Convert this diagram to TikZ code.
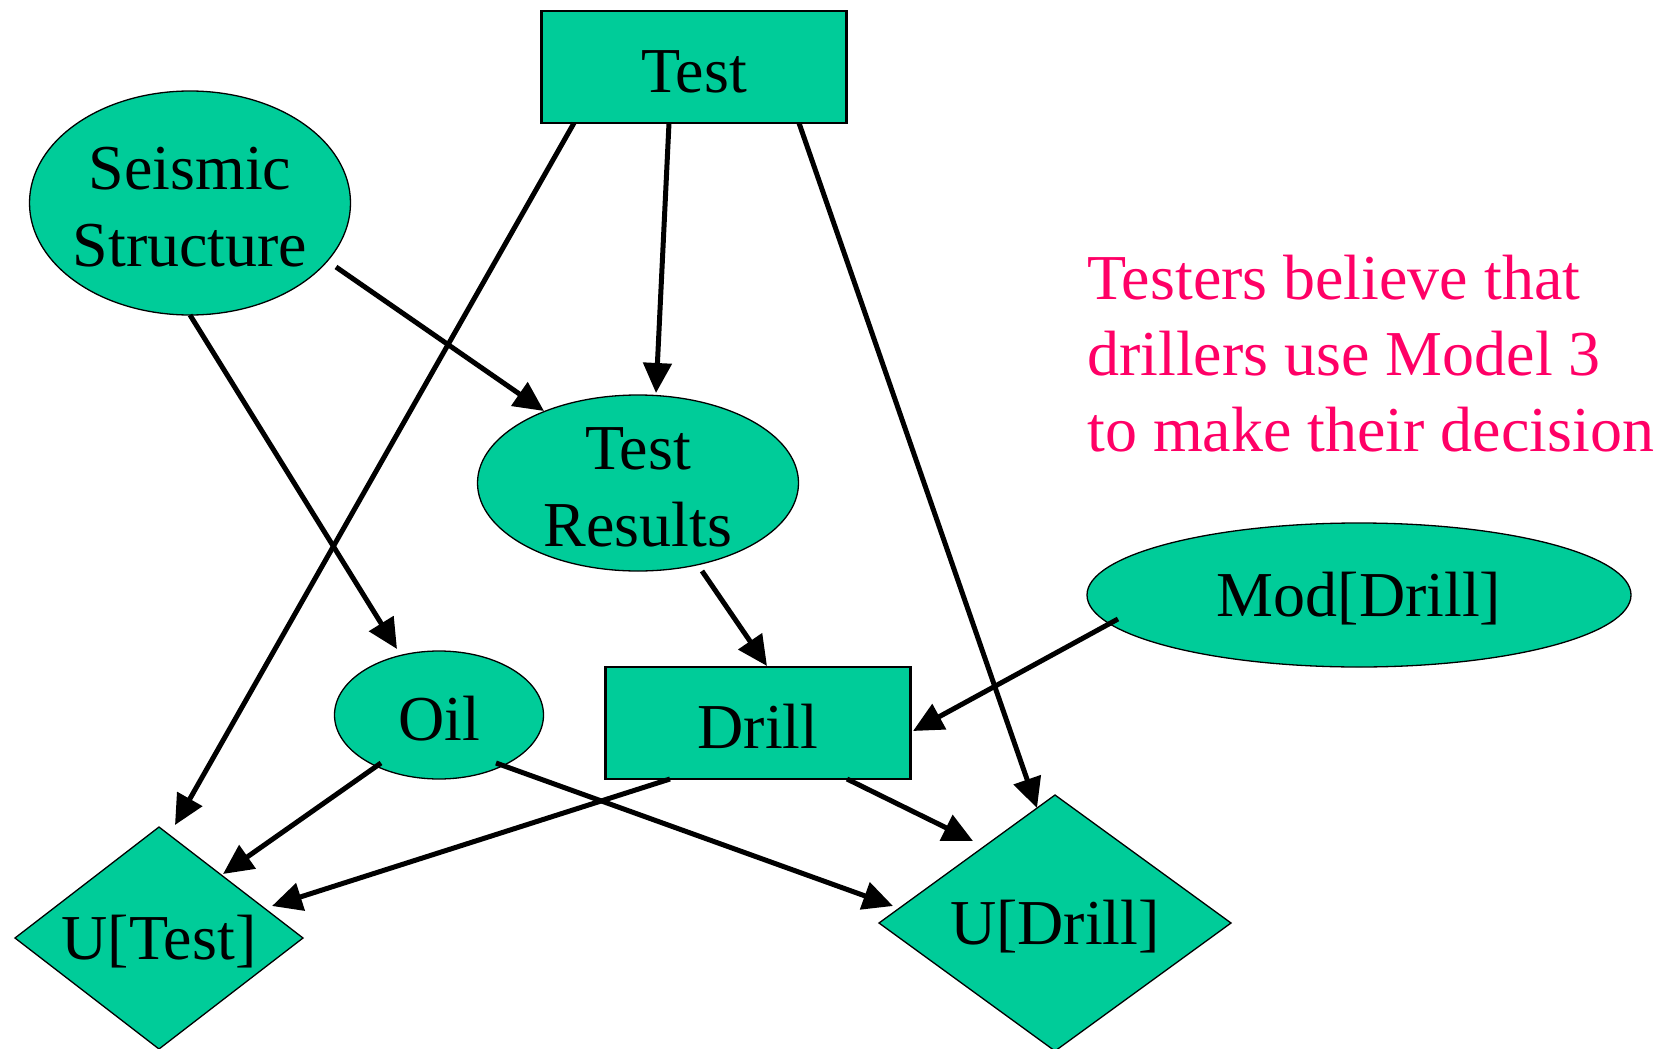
\documentclass[tikz,border=0pt]{standalone}
\usepackage{fontspec}
\setmainfont{Liberation Serif}
\usetikzlibrary{arrows.meta,shapes.geometric}
\definecolor{nodefill}{HTML}{00CC99}
\definecolor{notepink}{HTML}{FF0066}
% strut that sets the label a little lower in its shape
\newcommand\labelstrut{\rule{0pt}{51pt}}
\tikzset{
  lbl/.style={font=\fontsize{64}{77}\selectfont, align=center, inner sep=0pt},
  chance/.style={ellipse, draw=black, line width=1.3pt, fill=nodefill, lbl, inner sep=-15pt},
  decision/.style={rectangle, draw=black, line width=2.5pt, fill=nodefill, lbl},
  diamondpath/.style={draw=black, line width=1.3pt, fill=nodefill},
  arr/.style={line width=5pt, -{Triangle[length=30pt,width=28pt]}},
}
\begin{document}
\begin{tikzpicture}[x=1pt, y=-1pt]
\useasboundingbox (0,0) rectangle (1674,1049);

% decision nodes
\node[decision, minimum width=305pt, minimum height=112pt] (test) at (694,67) {\labelstrut Test};
\node[decision, minimum width=305pt, minimum height=112pt] (drill) at (758,723) {\labelstrut Drill};

% chance nodes
\node[chance, minimum width=321pt, minimum height=224pt] (seismic) at (190,203) {\labelstrut Seismic\\Structure};
\node[chance, minimum width=321pt, minimum height=176pt] (results) at (638,483) {\labelstrut Test\\Results};
\node[chance, minimum width=544pt, minimum height=144pt] (mod) at (1359,595) {\labelstrut Mod[Drill]};
\node[chance, minimum width=209pt, minimum height=128pt] (oil) at (439,715) {\labelstrut Oil};

% utility nodes
\path[diamondpath] (159,938) ++(-144,0) -- ++(144,-111) -- ++(144,111) -- ++(-144,111) -- cycle;
\node[lbl] (utest) at (159,938) {\labelstrut U[Test]};
\path[diamondpath] (1055,923) ++(-176,0) -- ++(176,-128) -- ++(176,128) -- ++(-176,128) -- cycle;
\node[lbl] (udrill) at (1055,923) {\labelstrut U[Drill]};

% note
\node[lbl, align=left, anchor=west, text=notepink, font=\fontsize{64}{76}\selectfont] (note) at (1087,354)
  {Testers believe that\\drillers use Model 3\\to make their decision};

% influences
\draw[arr] ([shift={(-120,56)}]test.center) -- ([shift={(16,-113)}]utest.center);
\draw[arr] ([shift={(-25,56)}]test.center) -- ([shift={(18,-90)}]results.center);
\draw[arr] ([shift={(105,56)}]test.center) -- ([shift={(-18,-115)}]udrill.center);
\draw[arr] ([shift={(146,64)}]seismic.center) -- ([shift={(-94,-72)}]results.center);
\draw[arr] ([shift={(0,112)}]seismic.center) -- ([shift={(-42,-66)}]oil.center);
\draw[arr] ([shift={(64,88)}]results.center) -- ([shift={(9,-57)}]drill.center);
\draw[arr] ([shift={(-241,24)}]mod.center) -- ([shift={(155,8)}]drill.center);
\draw[arr] ([shift={(-58,48)}]oil.center) -- ([shift={(64,-64)}]utest.center);
\draw[arr] ([shift={(57,48)}]oil.center) -- ([shift={(-162,-17)}]udrill.center);
\draw[arr] ([shift={(-88,56)}]drill.center) -- ([shift={(113,-32)}]utest.center);
\draw[arr] ([shift={(89,56)}]drill.center) -- ([shift={(-82,-82)}]udrill.center);
\end{tikzpicture}
\end{document}
